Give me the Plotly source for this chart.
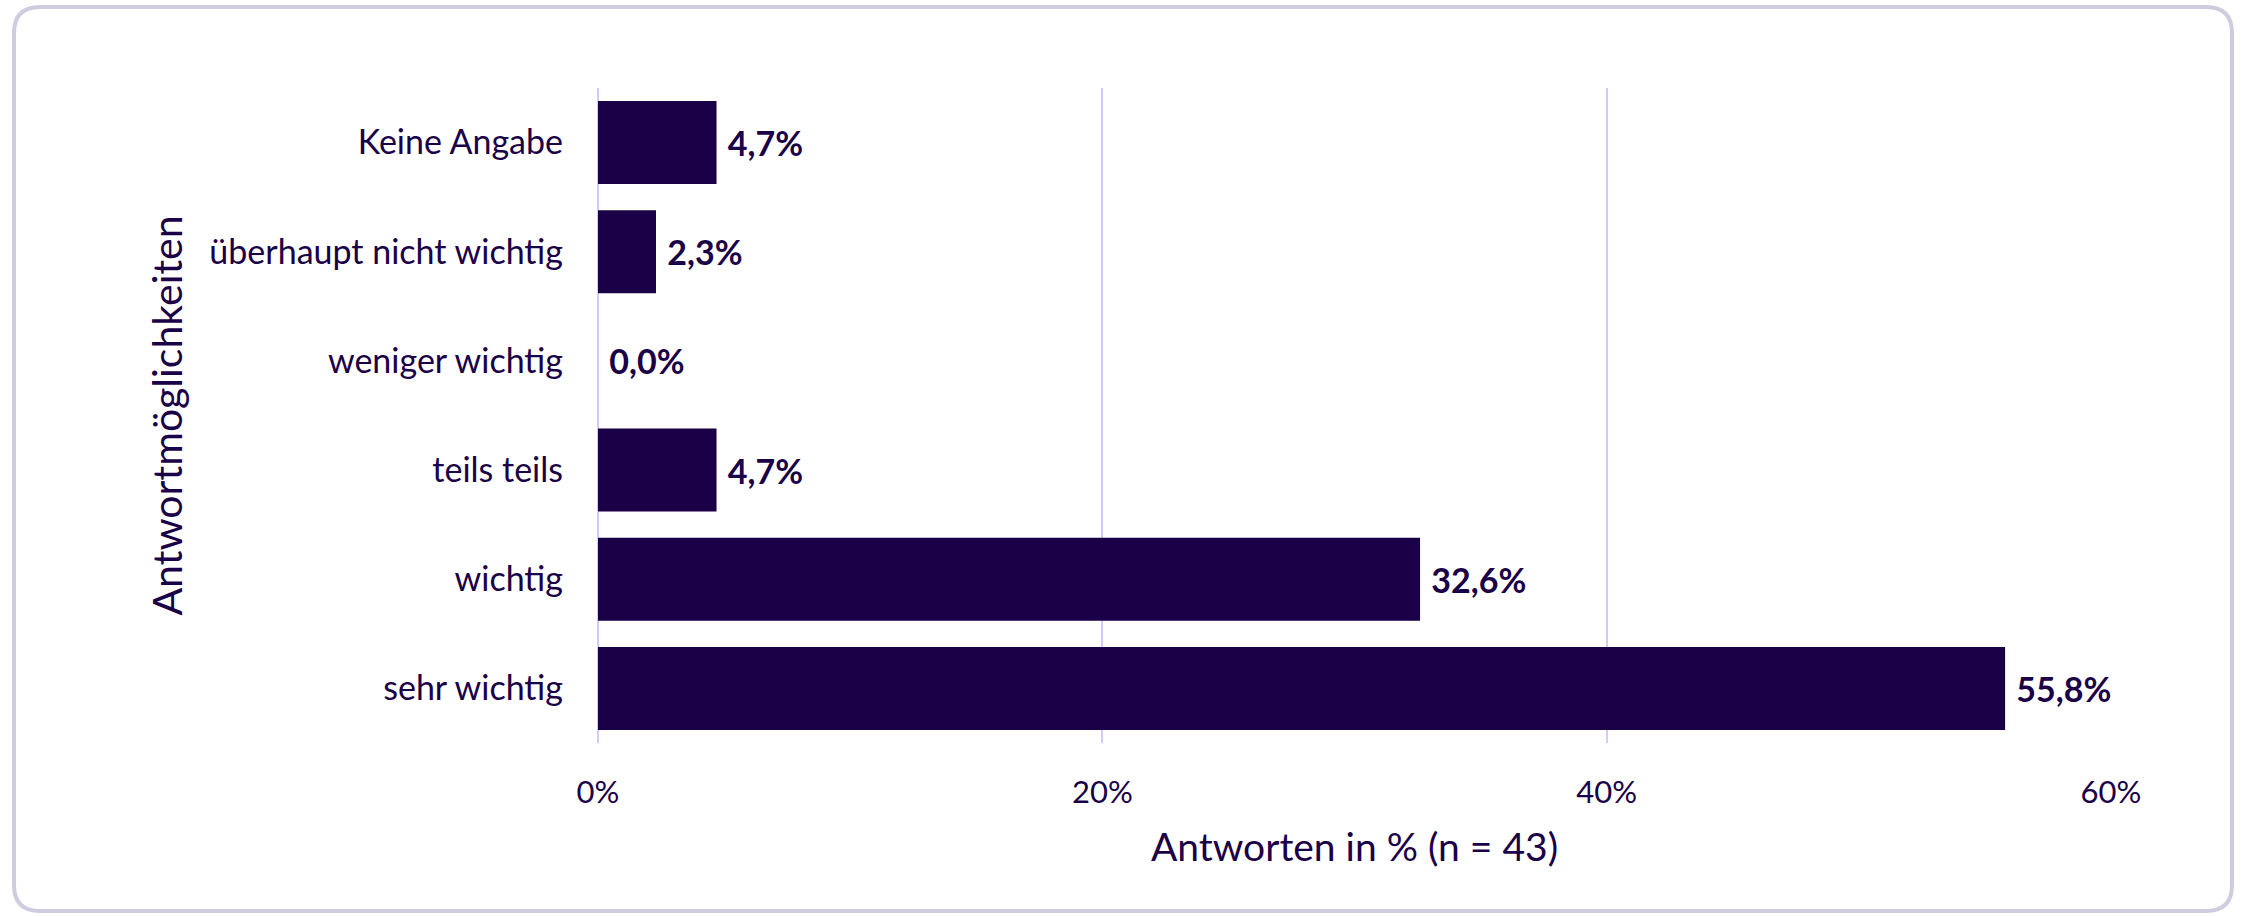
import plotly.graph_objects as go

categories = ["sehr wichtig", "wichtig", "teils teils", "weniger wichtig",
              "überhaupt nicht wichtig", "Keine Angabe"]
values = [55.8, 32.6, 4.7, 0.0, 2.3, 4.7]
tick_vals = [0, 20, 40, 60]
tick_text = ["0%", "20%", "40%", "60%"]

labels = ["\u00a0" + f"{v:.1f}".replace(".", ",") + "%" for v in values]

W, H = 2244, 916
ML, MR, MT, MB = 598, 133, 88, 173
PW, PH = W - ML - MR, H - MT - MB

DARK = "#1a0047"
GRID = "#d6c8fd"
FONT = "Lato"

fig = go.Figure(go.Bar(
    x=values, y=categories, orientation="h",
    marker=dict(color=DARK, line=dict(width=0)),
    text=labels, textposition="outside", cliponaxis=False,
    textfont=dict(family=FONT, size=34, color=DARK, weight="bold"),
    hoverinfo="skip",
))


def px(x):
    return (x - ML) / PW


def py(y):
    return (H - MB - y) / PH


x0, x1, y0, y1, r = 14, 2232, 7, 911, 26
path = (
    f"M {px(x0 + r)} {py(y0)} L {px(x1 - r)} {py(y0)} "
    f"Q {px(x1)} {py(y0)} {px(x1)} {py(y0 + r)} "
    f"L {px(x1)} {py(y1 - r)} Q {px(x1)} {py(y1)} {px(x1 - r)} {py(y1)} "
    f"L {px(x0 + r)} {py(y1)} Q {px(x0)} {py(y1)} {px(x0)} {py(y1 - r)} "
    f"L {px(x0)} {py(y0 + r)} Q {px(x0)} {py(y0)} {px(x0 + r)} {py(y0)} Z"
)

fig.update_layout(
    width=W, height=H,
    margin=dict(l=ML, r=MR, t=MT, b=MB, autoexpand=False),
    paper_bgcolor="white", plot_bgcolor="white",
    bargap=0.24, showlegend=False,
    font=dict(family=FONT, color=DARK),
    shapes=[dict(type="path", path=path, xref="paper", yref="paper",
                 line=dict(color="#cfcce0", width=4), layer="below")],
    xaxis=dict(
        range=[0, 60], tickvals=tick_vals, ticktext=tick_text,
        showgrid=True, gridcolor=GRID, gridwidth=2,
        zeroline=True, zerolinecolor=GRID, zerolinewidth=2,
        showline=False, ticks="", ticklabelstandoff=28,
        tickfont=dict(family=FONT, size=31, color=DARK),
        title=dict(text="Antworten in % (n = 43)", standoff=24,
                   font=dict(family=FONT, size=39, color=DARK)),
        fixedrange=True,
    ),
    yaxis=dict(
        showgrid=False, zeroline=False, showline=False, ticks="",
        ticklabelstandoff=34,
        tickfont=dict(family=FONT, size=34, color=DARK),
        title=dict(text="Antwortmöglichkeiten", standoff=14,
                   font=dict(family=FONT, size=41, color=DARK)),
        fixedrange=True,
    ),
)

fig.write_html(
    "out.html",
    config={"displayModeBar": False},
    post_script="document.body.style.margin='0';document.body.style.overflow='hidden';",
)
